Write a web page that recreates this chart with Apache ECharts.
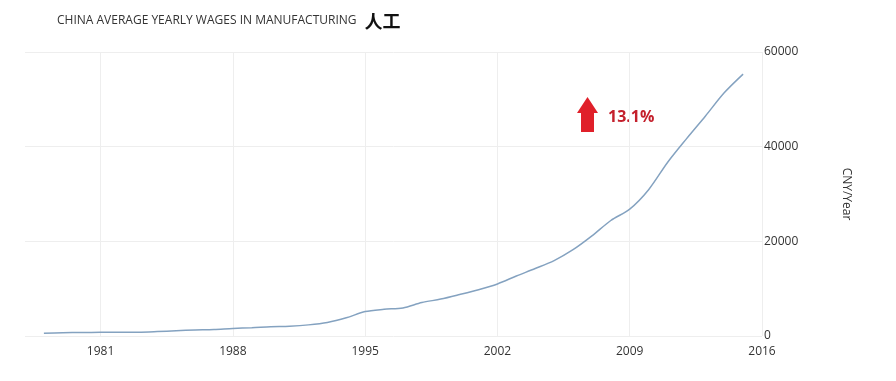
<!DOCTYPE html>
<html><head><meta charset="utf-8">
<script src="https://cdn.jsdelivr.net/npm/echarts@6/dist/echarts.min.js"></script>
<style>html,body{margin:0;padding:0;background:#fff}#c{width:896px;height:381px}</style>
</head><body><div id="c"></div>
<script>
const years = [];
for (let y = 1977; y <= 2016; y++) years.push(String(y));
const wageYears = [1978,1979,1980,1981,1982,1983,1984,1985,1986,1987,1988,1989,1990,1991,1992,1993,1994,1995,1996,1997,1998,1999,2000,2001,2002,2003,2004,2005,2006,2007,2008,2009,2010,2011,2012,2013,2014,2015];
const wages = [597,676,752,768,786,806,941,1112,1261,1381,1601,1748,1958,2073,2350,2859,3841,5169,5642,5933,7064,7794,8750,9774,11001,12671,14251,15934,18225,21144,24404,26810,30916,36665,41650,46431,51369,55324];
const labelYears = ['1981','1988','1995','2002','2009','2016'];
const yTicks = [0,20000,40000,60000];
const changeText = '13.1%';

const seriesData = years.map(y => {
  const i = wageYears.indexOf(Number(y));
  return i >= 0 ? wages[i] : null;
});
const showIdx = (idx, val) => labelYears.indexOf(String(val)) >= 0;

const chart = echarts.init(document.getElementById('c'));
chart.setOption({
  animation: false,
  title: {
    left: 52, top: 7,
    text: '{a|CHINA AVERAGE YEARLY WAGES IN MANUFACTURING}{g|}{b|人工}',
    textStyle: {
      rich: {
        a: {fontFamily: 'Open Sans', fontSize: 12, color: '#333', fontWeight: 500},
        g: {width: 8},
        b: {fontFamily: 'Noto Sans CJK SC', fontSize: 18, color: '#111'}
      }
    }
  },
  grid: {left: 25, right: 134, top: 52, bottom: 45},
  xAxis: {
    type: 'category', data: years, boundaryGap: false,
    axisLine: {show: false}, axisTick: {show: false},
    axisLabel: {interval: showIdx, color: '#333', fontFamily: 'Open Sans', fontSize: 12, margin: 10},
    splitLine: {show: true, interval: showIdx, lineStyle: {color: '#eeeeee', width: 1}}
  },
  yAxis: {
    type: 'value', position: 'right', min: 0, max: 60000, interval: 20000,
    axisLine: {show: false}, axisTick: {show: false},
    axisLabel: {color: '#333', fontFamily: 'Open Sans', fontSize: 12, margin: 2, align: 'left', verticalAlign: 'middle',
      formatter: v => String(v)},
    splitLine: {lineStyle: {color: '#eeeeee', width: 1}},
    name: 'CNY/Year', nameLocation: 'middle', nameRotate: -90, nameGap: 78,
    nameTextStyle: {color: '#333', fontFamily: 'Open Sans', fontSize: 12}
  },
  series: [{
    type: 'line', data: seriesData, smooth: 0.3, showSymbol: false, connectNulls: false,
    lineStyle: {color: '#84a2c0', width: 1.5}
  }],
  graphic: [
    {type: 'polygon', shape: {points: [[587.5,97],[598,113],[594,113],[594,132],[581,132],[581,113],[577,113]]}, style: {fill: '#e0202a'}},
    {type: 'text', left: 608, top: 109, style: {text: changeText, fill: '#c4202c', font: 'bold 16px "Open Sans"'}}
  ]
});
</script></body></html>
